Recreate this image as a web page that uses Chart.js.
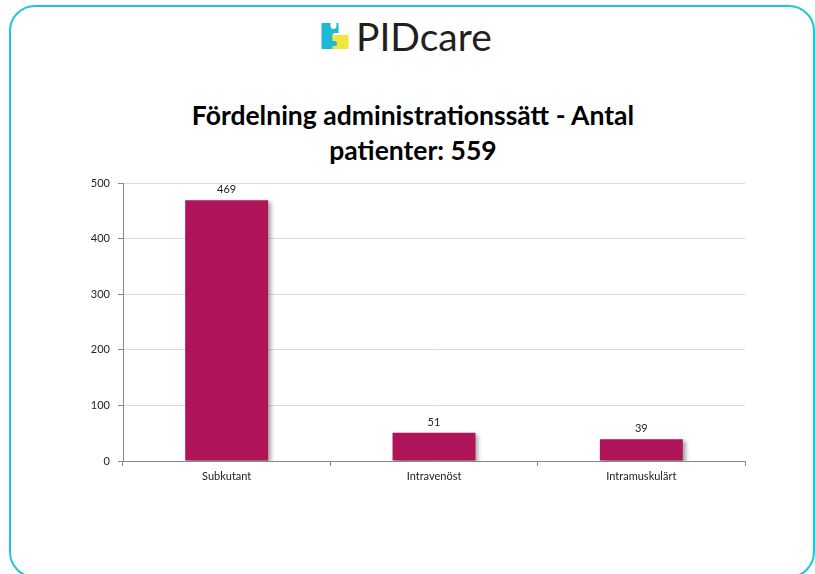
<!DOCTYPE html>
<html>
<head>
<meta charset="utf-8">
<script src="https://cdn.jsdelivr.net/npm/chart.js@4/dist/chart.umd.min.js"></script>
<style>
  html,body{margin:0;padding:0;background:#fff;}
  body{width:815px;height:574px;position:relative;overflow:hidden;font-family:Lato,"Open Sans",sans-serif;}
  #frame{position:absolute;left:9px;top:5px;width:806px;height:573px;border:2.5px solid #1cc6dc;border-radius:26px;box-sizing:border-box;}
  #logo{position:absolute;left:319px;top:14px;height:44px;display:flex;align-items:center;}
  #logo span{font-size:39px;color:#231f20;margin-left:6px;}
  #title{position:absolute;left:0;width:826px;top:98px;text-align:center;font-weight:bold;font-size:26.5px;line-height:35px;color:#000;}
  #chartBox{position:absolute;left:0;top:0;width:815px;height:574px;}
</style>
</head>
<body>
<div id="frame"></div>
<div id="logo">
  <svg width="31" height="30" viewBox="0 0 30 30">
    <path d="M2 2h9v3a3 3 0 0 0 6 0V2h2v10h-3a3 3 0 0 0 0 6h3v10H2z" fill="#1fb9d4"/>
    <path d="M13 14h16v14H13v-3h2a2.5 2.5 0 0 0 0-5h-2z" fill="#f0e640"/>
  </svg>
  <span>PIDcare</span>
</div>
<div id="title">Fördelning administrationssätt - Antal<br>patienter: 559</div>
<div id="chartBox"><canvas id="adminChart" width="815" height="574"></canvas></div>
<script>
const categories = ['Subkutant', 'Intravenöst', 'Intramuskulärt'];
const patients = [469, 51, 39];
const yTicks = [0, 100, 200, 300, 400, 500];

// soft shadow behind the bars
const barShadow = {
  id: 'barShadow',
  beforeDatasetsDraw(chart){
    const c = chart.ctx;
    c.save();
    c.shadowColor = 'rgba(0,0,0,0.35)';
    c.shadowBlur = 4;
    c.shadowOffsetX = 3;
    c.shadowOffsetY = 2;
  },
  afterDatasetsDraw(chart){ chart.ctx.restore(); }
};

// value printed above each bar
const valueLabels = {
  id: 'valueLabels',
  afterDatasetsDraw(chart){
    const c = chart.ctx;
    const meta = chart.getDatasetMeta(0);
    c.save();
    c.font = '11px Lato, "Open Sans", sans-serif';
    c.fillStyle = '#222';
    c.textAlign = 'center';
    c.textBaseline = 'bottom';
    meta.data.forEach((bar, i) => {
      c.fillText(chart.data.datasets[0].data[i], bar.x, bar.y - 5);
    });
    c.restore();
  }
};

const ctx = document.getElementById('adminChart');
new Chart(ctx, {
  type: 'bar',
  data: {
    labels: categories,
    datasets: [{ label: 'Antal', data: patients, backgroundColor: '#ae1457', categoryPercentage: 1, barPercentage: 0.4 }]
  },
  options: {
    responsive: false,
    animation: false,
    layout: { padding: { left: 82, right: 70, top: 183, bottom: 83 } },
    plugins: { legend: { display: false }, tooltip: { enabled: false } },
    scales: {
      x: {
        grid: { display: true, drawOnChartArea: false, offset: true, tickLength: 5, color: '#888' },
        border: { color: '#888' },
        ticks: { color: '#222', font: { size: 11, family: 'Lato' }, padding: 4 },
        afterFit(s){ s.height = 30; }
      },
      y: {
        min: 0, max: 500,
        afterBuildTicks(s){ s.ticks = yTicks.map(v => ({ value: v })); },
        grid: { color: '#d9d9d9', tickColor: '#888', tickLength: 5 },
        border: { color: '#888' },
        ticks: { color: '#222', font: { size: 11, family: 'Lato' }, padding: 8 },
        afterFit(s){ s.width = 41; }
      }
    }
  },
  plugins: [barShadow, valueLabels]
});
</script>
</body>
</html>
